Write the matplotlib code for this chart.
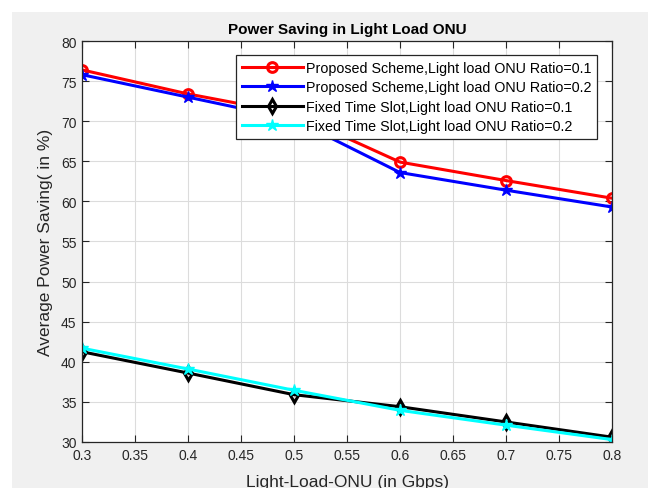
import matplotlib
matplotlib.use('Agg')
import matplotlib.pyplot as plt
from matplotlib.patches import Rectangle

load = [0.3, 0.4, 0.5, 0.6, 0.7, 0.8]
proposed_01 = [76.4, 73.4, 70.9, 64.9, 62.6, 60.4]
proposed_02 = [75.8, 73.0, 70.2, 63.6, 61.4, 59.3]
fixed_01 = [41.25, 38.6, 35.9, 34.4, 32.5, 30.6]
fixed_02 = [41.7, 39.1, 36.45, 33.95, 32.1, 30.3]

labels = [
    "Proposed Scheme,Light load ONU Ratio=0.1",
    "Proposed Scheme,Light load ONU Ratio=0.2",
    "Fixed Time Slot,Light load ONU Ratio=0.1",
    "Fixed Time Slot,Light load ONU Ratio=0.2",
]
xticks = [0.3, 0.35, 0.4, 0.45, 0.5, 0.55, 0.6, 0.65, 0.7, 0.75, 0.8]
yticks = [30, 35, 40, 45, 50, 55, 60, 65, 70, 75, 80]

plt.rcParams['font.family'] = ['Liberation Sans', 'DejaVu Sans']
edge = "#262626"

fig = plt.figure(figsize=(6.48, 4.89), dpi=100, facecolor="white")
# grey MATLAB figure area (screenshot has a thin white margin at left/top)
fig.patches.append(Rectangle((12 / 648, 0), 1, 1 - 13 / 489, transform=fig.transFigure,
                             facecolor="#f0f0f0", edgecolor="none", zorder=-10))
ax = fig.add_axes([82 / 648, 1 - 443 / 489, 530 / 648, 401 / 489])

ax.plot(load, proposed_01, color="red", linewidth=2.2, marker="o", markersize=7,
        markerfacecolor="none", markeredgewidth=2.2, label=labels[0])
ax.plot(load, proposed_02, color="blue", linewidth=2.2, marker="*", markersize=9,
        label=labels[1])
ax.plot(load, fixed_01, color="black", linewidth=2.2, marker="d", markersize=7,
        markerfacecolor="none", markeredgewidth=2.2, label=labels[2])
ax.plot(load, fixed_02, color="cyan", linewidth=2.2, marker="*", markersize=9,
        label=labels[3])

ax.set_xlim(0.3, 0.8)
ax.set_ylim(30, 80)
ax.set_xticks(xticks)
ax.set_xticklabels([f"{t:g}" for t in xticks])
ax.set_yticks(yticks)
ax.grid(True, color="#dcdcdc", linewidth=0.8)
ax.set_axisbelow(True)
ax.tick_params(direction="in", top=True, right=True, length=5, width=0.8,
               colors=edge, labelsize=10, pad=4)
for s in ax.spines.values():
    s.set_color(edge)
    s.set_linewidth(0.9)

ax.set_title("Power Saving in Light Load ONU", fontsize=11, fontweight="bold",
             color="black", pad=6)
ax.set_xlabel("Light-Load-ONU (in Gbps)", fontsize=12.5, color=edge, labelpad=9)
ax.set_ylabel("Average Power Saving( in %)", fontsize=12.5, color=edge, labelpad=6)

leg = ax.legend(loc="upper right", bbox_to_anchor=(0.972, 0.965), borderaxespad=0,
                fontsize=10.3, handlelength=4.3, handletextpad=0.2, borderpad=0.4,
                labelspacing=0.38, fancybox=False, framealpha=1,
                edgecolor=edge)
leg.get_frame().set_linewidth(0.9)

fig.savefig("out.png", dpi=100, facecolor=fig.get_facecolor())
